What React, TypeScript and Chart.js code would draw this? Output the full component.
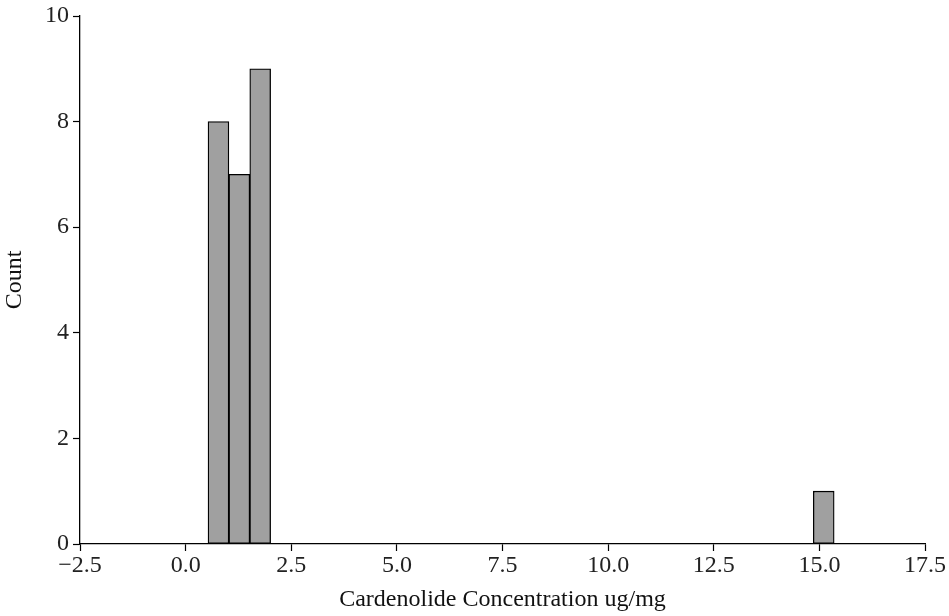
import React, { useEffect, useRef } from "react";
import { Chart, registerables } from "chart.js";

Chart.register(...registerables);

// Histogram bin centres (bin width ~0.494) and counts
const binCenters = [
  0.777, 1.271, 1.765, 2.259, 2.753, 3.247, 3.741, 4.235, 4.729, 5.223,
  5.717, 6.211, 6.705, 7.199, 7.693, 8.187, 8.681, 9.175, 9.669, 10.163,
  10.657, 11.151, 11.645, 12.139, 12.633, 13.127, 13.621, 14.115, 14.609, 15.103,
];
const counts = [
  8, 7, 9, 0, 0, 0, 0, 0, 0, 0,
  0, 0, 0, 0, 0, 0, 0, 0, 0, 0,
  0, 0, 0, 0, 0, 0, 0, 0, 0, 1,
];
const xTicks = [-2.5, 0.0, 2.5, 5.0, 7.5, 10.0, 12.5, 15.0, 17.5];
const yTicks = [0, 2, 4, 6, 8, 10];

const FONT = "'Liberation Serif', 'DejaVu Serif', serif";

export default function App() {
  const ref = useRef<HTMLCanvasElement | null>(null);
  useEffect(() => {
    document.body.style.margin = "0";
    const ctx = ref.current!.getContext("2d")!;
    const chart = new Chart(ctx, {
      type: "bar",
      data: {
        datasets: [
          {
            data: binCenters.map((x, i) => ({ x, y: counts[i] })),
            backgroundColor: "#a0a0a0",
            borderColor: "#000000",
            borderWidth: 1.3,
            borderSkipped: false,
            barPercentage: 1,
            categoryPercentage: 1,
          },
        ],
      },
      options: {
        animation: false,
        responsive: false,
        maintainAspectRatio: false,
        events: [],
        layout: { padding: { top: 15, right: 24, left: 0, bottom: 0 } },
        plugins: { legend: { display: false }, tooltip: { enabled: false } },
        scales: {
          x: {
            type: "linear",
            min: -2.5,
            max: 17.5,
            offset: false,
            afterBuildTicks: (s: any) => {
              s.ticks = xTicks.map((v) => ({ value: v }));
            },
            afterFit: (s: any) => {
              s.height = 72;
            },
            ticks: {
              color: "#222",
              font: { family: FONT, size: 24, lineHeight: 1 },
              padding: 3,
              maxRotation: 0,
              autoSkip: false,
              callback: (v: any) => {
                const n = Number(v);
                const t = Math.abs(n).toFixed(1);
                return n < 0 ? "\u2212" + t : t;
              },
            },
            grid: {
              offset: false,
              drawOnChartArea: false,
              drawTicks: true,
              tickLength: 7,
              tickColor: "#000",
              tickWidth: 1.2,
            },
            border: { display: true, color: "#000", width: 1.3 },
            title: {
              display: true,
              text: "Cardenolide Concentration ug/mg",
              color: "#111",
              font: { family: FONT, size: 24 },
              padding: { top: 0, bottom: 2 },
            },
          },
          y: {
            type: "linear",
            min: 0,
            max: 10,
            afterBuildTicks: (s: any) => {
              s.ticks = yTicks.map((v) => ({ value: v }));
            },
            afterFit: (s: any) => {
              s.width = 80;
            },
            ticks: {
              color: "#222",
              font: { family: FONT, size: 24, lineHeight: 1 },
              padding: 4,
              autoSkip: false,
              callback: (v: any) => String(v),
            },
            grid: {
              drawOnChartArea: false,
              drawTicks: true,
              tickLength: 7,
              tickColor: "#000",
              tickWidth: 1.2,
            },
            border: { display: true, color: "#000", width: 1.3 },
            title: {
              display: true,
              text: "Count",
              color: "#111",
              font: { family: FONT, size: 24 },
              padding: { top: 0, bottom: 4 },
            },
          },
        },
      },
    });
    return () => chart.destroy();
  }, []);
  return (
    <div style={{ position: "absolute", left: 0, top: 0, width: 949, height: 616 }}>
      <canvas ref={ref} width={949} height={616} style={{ width: 949, height: 616 }} />
    </div>
  );
}
